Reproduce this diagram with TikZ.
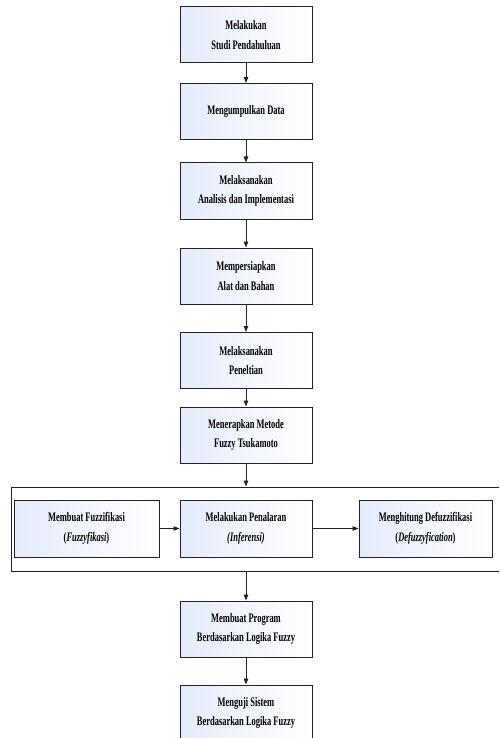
\documentclass[tikz,border=0pt]{standalone}
\usepackage{fontspec}
\setmainfont{Liberation Serif}[FakeStretch=0.65]
\usetikzlibrary{arrows.meta}
\definecolor{boxblue}{RGB}{228,235,250}
\definecolor{edge}{RGB}{35,35,35}
\tikzset{
  stepbox/.style={draw=edge, line width=1pt, left color=boxblue, right color=white,
    minimum width=132pt, minimum height=56pt, align=center, inner sep=0pt,
    font=\fontsize{13}{19.5}\selectfont\bfseries},
  grpbox/.style={draw=edge, line width=1pt, inner sep=0pt},
  conn/.style={draw=edge, line width=0.9pt, -{Triangle[length=6pt,width=4.5pt]}}
}
\begin{document}
\begin{tikzpicture}[x=1pt,y=-1pt]
\useasboundingbox (0,0) rectangle (499,738);
\clip (0,0) rectangle (499,738);
\node[stepbox] (b1) at (246,35) {Melakukan\\Studi Pendahuluan};
\node[stepbox] (b2) at (246,111.5) {Mengumpulkan Data};
\node[stepbox] (b3) at (246,191) {Melaksanakan\\Analisis dan Implementasi};
\node[stepbox] (b4) at (246,276) {Mempersiapkan\\Alat dan Bahan};
\node[stepbox] (b5) at (246,360.5) {Melaksanakan\\Peneltian};
\node[stepbox] (b6) at (246,435) {Menerapkan Metode\\Fuzzy Tsukamoto};
\node[grpbox, minimum width=509pt, minimum height=84pt] (grp) at (265.5,529) {};
\node[stepbox, minimum width=145pt, minimum height=57pt] (f1) at (86.5,528.5) {Membuat Fuzzifikasi\\(\textit{Fuzzyfikasi})};
\node[stepbox, minimum height=57pt] (f2) at (246,528.5) {Melakukan Penalaran\\\textit{(Inferensi)}};
\node[stepbox, minimum width=133pt, minimum height=57pt] (f3) at (425.5,528.5) {Menghitung Defuzzifikasi\\(\textit{Defuzzyfication})};
\node[stepbox] (b7) at (246,629) {Membuat Program\\Berdasarkan Logika Fuzzy};
\node[stepbox] (b8) at (246,713) {Menguji Sistem\\Berdasarkan Logika Fuzzy};
\draw[conn] (b1) -- (b2);
\draw[conn] (b2) -- (b3);
\draw[conn] (b3) -- (b4);
\draw[conn] (b4) -- (b5);
\draw[conn] (b5) -- (b6);
\draw[conn] (b6.south) -- (b6.south |- grp.north);
\draw[conn] (f1) -- (f2);
\draw[conn] (f2) -- (f3);
\draw[conn] (grp.south -| b7.north) -- (b7.north);
\draw[conn] (b7) -- (b8);
\end{tikzpicture}
\end{document}
